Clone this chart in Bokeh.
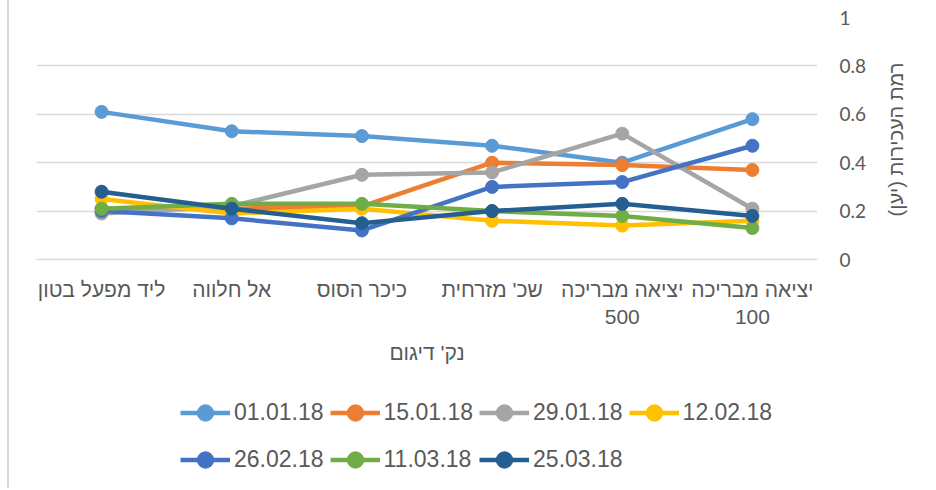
import math
from bokeh.plotting import figure
from bokeh.layouts import column, row
from bokeh.models import FactorRange, Range1d, FixedTicker, Legend, LegendItem, Label
from bokeh.embed import file_html
from bokeh.resources import INLINE

# Categories in their natural (right-to-left) order: first one is drawn on the right
categories = ["יציאה מבריכה\n100", "יציאה מבריכה\n500", "שכ' מזרחית",
              "כיכר הסוס", "אל חלווה", "ליד מפעל בטון"]

dates = ["01.01.18", "15.01.18", "29.01.18", "12.02.18",
         "26.02.18", "11.03.18", "25.03.18"]

s_01_01_18 = [0.58, 0.40, 0.47, 0.51, 0.53, 0.61]
s_15_01_18 = [0.37, 0.39, 0.40, 0.22, 0.21, 0.21]
s_29_01_18 = [0.21, 0.52, 0.36, 0.35, 0.22, 0.19]
s_12_02_18 = [0.16, 0.14, 0.16, 0.21, 0.19, 0.25]
s_26_02_18 = [0.47, 0.32, 0.30, 0.12, 0.17, 0.20]
s_11_03_18 = [0.13, 0.18, 0.20, 0.23, 0.23, 0.21]
s_25_03_18 = [0.18, 0.23, 0.20, 0.15, 0.21, 0.28]

series = [s_01_01_18, s_15_01_18, s_29_01_18, s_12_02_18,
          s_26_02_18, s_11_03_18, s_25_03_18]
colors = ["#5B9BD5", "#ED7D31", "#A5A5A5", "#FFC000",
          "#4472C4", "#70AD47", "#255E91"]

y_ticks = [0, 0.2, 0.4, 0.6, 0.8, 1]
y_tick_labels = ["0", "0.2", "0.4", "0.6", "0.8", "1"]

x_title = "נק' דיגום"
y_title = "רמת העכירות (יען)\u200f"

TEXT = "#595959"
FONT = "Liberation Sans"

p = figure(width=866, height=380,
           x_range=FactorRange(factors=list(reversed(categories))),
           y_range=Range1d(0, 1),
           y_axis_location="right",
           output_backend="svg", toolbar_location=None,
           min_border_left=27, min_border_right=58,
           min_border_top=17, min_border_bottom=121)
p.outline_line_color = None
p.background_fill_color = "white"
p.border_fill_color = "white"

p.xgrid.grid_line_color = None
p.ygrid.ticker = FixedTicker(ticks=y_ticks)
p.ygrid.grid_line_color = "#d9d9d9"
p.ygrid.grid_line_width = 1.5

xa = p.xaxis[0]
xa.axis_line_color = "#d9d9d9"
xa.axis_line_width = 1.5
xa.major_tick_line_color = None
xa.minor_tick_line_color = None
xa.major_label_standoff = 12
xa.major_label_text_font = FONT
xa.major_label_text_font_size = "21px"
xa.major_label_text_color = TEXT
xa.axis_label = x_title
xa.axis_label_text_font = FONT
xa.axis_label_text_font_size = "21px"
xa.axis_label_text_font_style = "normal"
xa.axis_label_text_color = TEXT
xa.axis_label_standoff = 10

ya = p.yaxis[0]
ya.ticker = FixedTicker(ticks=y_ticks)
ya.major_label_overrides = {t: l for t, l in zip(y_ticks, y_tick_labels)}
ya.axis_line_color = None
ya.major_tick_line_color = None
ya.minor_tick_line_color = None
ya.major_label_standoff = 16
ya.major_label_text_font = "Lato"
ya.major_label_text_font_size = "19px"
ya.major_label_text_color = TEXT

for name, vals, col in zip(dates, series, colors):
    p.line(x=categories, y=vals, line_color=col, line_width=4.5)
    p.scatter(x=categories, y=vals, size=13, fill_color=col, line_color=col)

# Vertical axis title strip to the right of the chart (its frame aligns with the chart's)
tf = figure(width=59, height=380, x_range=Range1d(0, 1), y_range=Range1d(0, 1),
            x_axis_location=None, y_axis_location=None,
            output_backend="svg", toolbar_location=None, min_border=0)
tf.grid.grid_line_color = None
tf.outline_line_color = None
tf.add_layout(Label(x=20, y=120, x_units="screen", y_units="screen",
                    text=y_title, angle=math.pi / 2,
                    text_align="center", text_baseline="middle",
                    text_font=FONT, text_font_size="20px", text_color=TEXT))

# Legend strip below the chart (its series lie outside this strip's visible range)
lg = figure(width=925, height=108,
            x_range=FactorRange(factors=list(reversed(categories))),
            y_range=Range1d(5, 6),
            x_axis_location=None, y_axis_location=None,
            output_backend="svg", toolbar_location=None, min_border=0)
lg.grid.grid_line_color = None
lg.outline_line_color = None

items = []
for name, vals, col in zip(dates, series, colors):
    lr = lg.line(x=categories, y=vals, line_color=col, line_width=4.5)
    sr = lg.scatter(x=categories, y=vals, size=12, fill_color=col, line_color=col)
    items.append(LegendItem(label=name, renderers=[lr, sr]))

legend = Legend(items=items, location=(171, 8), orientation="horizontal",
                nrows=2, ncols=4,
                glyph_width=50, glyph_height=41, label_standoff=4, spacing=6,
                padding=0, margin=0, border_line_color=None,
                background_fill_alpha=0,
                label_text_font=FONT, label_text_font_size="23px",
                label_text_color=TEXT)
lg.add_layout(legend, "center")

layout = column(row(p, tf, spacing=0), lg, spacing=0,
                styles={"margin-left": "7px", "border-left": "2px solid #d9d9d9"})

open("out.html", "w").write(file_html(layout, INLINE))
